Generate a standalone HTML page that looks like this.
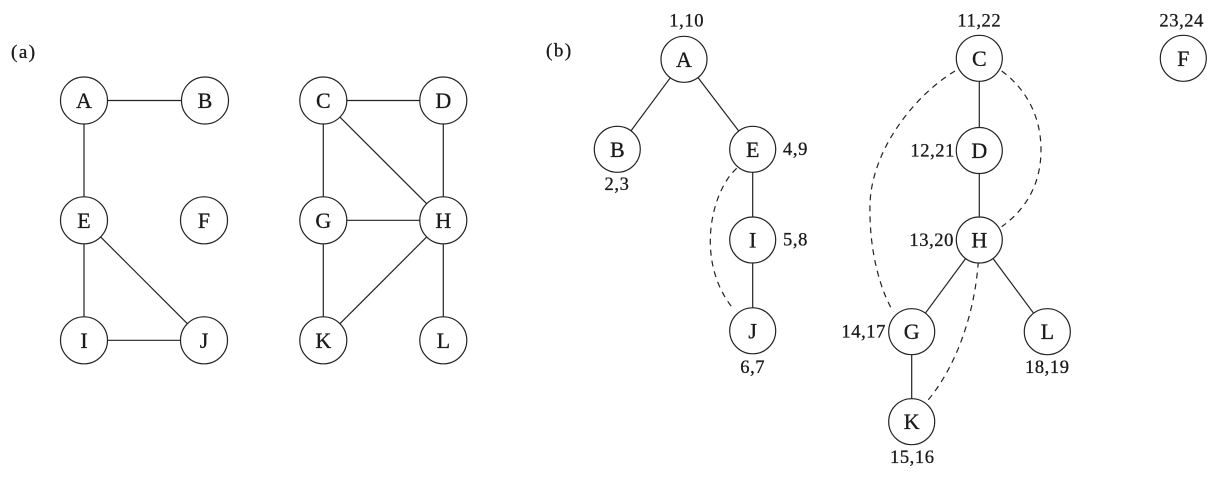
<!DOCTYPE html>
<html><head><meta charset="utf-8"><style>
html,body{margin:0;padding:0;background:#fff;}
svg{display:block;}
text{font-family:"Liberation Serif",serif;fill:#1a1a1a;stroke:#1a1a1a;stroke-width:0.3px;}
.n{font-size:22px;text-anchor:middle;}
.l{font-size:18.5px;letter-spacing:0.6px;}
</style></head><body>
<svg width="1219" height="479" viewBox="0 0 1219 479" xmlns="http://www.w3.org/2000/svg">
<g stroke="#222" stroke-width="1.2" fill="none">
<line x1="84" y1="100.5" x2="205" y2="100.5"/>
<line x1="84" y1="100.5" x2="84" y2="220.3"/>
<line x1="84" y1="220.3" x2="84" y2="340.3"/>
<line x1="84" y1="220.3" x2="204" y2="340.3"/>
<line x1="84" y1="340.3" x2="204" y2="340.3"/>
<line x1="323.3" y1="100.5" x2="443.3" y2="100.5"/>
<line x1="323.3" y1="100.5" x2="323.3" y2="220.3"/>
<line x1="323.3" y1="100.5" x2="443.3" y2="220.3"/>
<line x1="443.3" y1="100.5" x2="443.3" y2="220.3"/>
<line x1="323.3" y1="220.3" x2="443.3" y2="220.3"/>
<line x1="323.3" y1="220.3" x2="323.3" y2="340.3"/>
<line x1="443.3" y1="220.3" x2="323.3" y2="340.3"/>
<line x1="443.3" y1="220.3" x2="443.3" y2="340.3"/>
<line x1="684" y1="59.3" x2="617.3" y2="149.3"/>
<line x1="684" y1="59.3" x2="752.7" y2="149.3"/>
<line x1="752.7" y1="149.3" x2="752.7" y2="240"/>
<line x1="752.7" y1="240" x2="752.7" y2="330.5"/>
<line x1="979.3" y1="58.3" x2="979.3" y2="150.5"/>
<line x1="979.3" y1="150.5" x2="979.3" y2="240"/>
<line x1="979.3" y1="240" x2="911.7" y2="331.7"/>
<line x1="979.3" y1="240" x2="1047.3" y2="331.7"/>
<line x1="911.7" y1="331.7" x2="911.7" y2="421.7"/>
<g stroke-dasharray="6,5">
<path d="M736.7,168.3 C712,190 694,260 733,308.5"/>
<path d="M955,71 C915,95 871,150 870,205 C869,250 880,290 893.3,311.7"/>
<path d="M1001.7,71 C1025,88 1041,115 1041,150 C1041,185 1025,210 1001.7,226.7"/>
<path d="M978.3,261.7 C975,310 958,365 926.7,401.7"/>
</g>
</g>
<g stroke="#222" stroke-width="1.2" fill="#fff">
<circle cx="84" cy="100.5" r="23.5"/>
<circle cx="205" cy="100.5" r="23.5"/>
<circle cx="84" cy="220.3" r="23.5"/>
<circle cx="204" cy="220.3" r="23.5"/>
<circle cx="84" cy="340.3" r="23.5"/>
<circle cx="204" cy="340.3" r="23.5"/>
<circle cx="323.3" cy="100.5" r="23.5"/>
<circle cx="443.3" cy="100.5" r="23.5"/>
<circle cx="323.3" cy="220.3" r="23.5"/>
<circle cx="443.3" cy="220.3" r="23.5"/>
<circle cx="323.3" cy="340.3" r="23.5"/>
<circle cx="443.3" cy="340.3" r="23.5"/>
<circle cx="684" cy="59.3" r="23"/>
<circle cx="617.3" cy="149.3" r="23"/>
<circle cx="752.7" cy="149.3" r="23"/>
<circle cx="752.7" cy="240" r="23"/>
<circle cx="752.7" cy="330.8" r="23"/>
<circle cx="979.3" cy="58.3" r="23"/>
<circle cx="979.3" cy="150.5" r="23"/>
<circle cx="979.3" cy="240" r="23"/>
<circle cx="911.7" cy="331.7" r="23"/>
<circle cx="1047.3" cy="331.7" r="23"/>
<circle cx="911.7" cy="421.7" r="23"/>
<circle cx="1183.3" cy="58.3" r="23"/>
</g>
<text x="11" y="58" style="font-size:19px;letter-spacing:1.5px">(a)</text>
<text x="546" y="56.5" style="font-size:19px;letter-spacing:1.5px">(b)</text>
<g class="n">
<text x="84" y="108">A</text>
<text x="205" y="108">B</text>
<text x="84" y="227.8">E</text>
<text x="204" y="227.8">F</text>
<text x="84" y="347.8">I</text>
<text x="204" y="347.8">J</text>
<text x="323.3" y="108">C</text>
<text x="443.3" y="108">D</text>
<text x="323.3" y="227.8">G</text>
<text x="443.3" y="227.8">H</text>
<text x="323.3" y="347.8">K</text>
<text x="443.3" y="347.8">L</text>
<text x="684" y="66.8">A</text>
<text x="617.3" y="156.8">B</text>
<text x="752.7" y="156.8">E</text>
<text x="752.7" y="247.5">I</text>
<text x="752.7" y="338.3">J</text>
<text x="979.3" y="65.8">C</text>
<text x="979.3" y="158">D</text>
<text x="979.3" y="247.5">H</text>
<text x="911.7" y="339.2">G</text>
<text x="1047.3" y="339.2">L</text>
<text x="911.7" y="429.2">K</text>
<text x="1183.3" y="65.8">F</text>
</g>
<g class="l">
<text x="686.7" y="26.5" text-anchor="middle">1,10</text>
<text x="617" y="190" text-anchor="middle">2,3</text>
<text x="783" y="155" text-anchor="start">4,9</text>
<text x="783" y="245.5" text-anchor="start">5,8</text>
<text x="752.7" y="373" text-anchor="middle">6,7</text>
<text x="979.3" y="26.5" text-anchor="middle">11,22</text>
<text x="1181.7" y="26.5" text-anchor="middle">23,24</text>
<text x="955" y="156.5" text-anchor="end">12,21</text>
<text x="954" y="246" text-anchor="end">13,20</text>
<text x="886" y="337.5" text-anchor="end">14,17</text>
<text x="1047.3" y="373" text-anchor="middle">18,19</text>
<text x="912.3" y="463" text-anchor="middle">15,16</text>
</g>
</svg>
</body></html>
